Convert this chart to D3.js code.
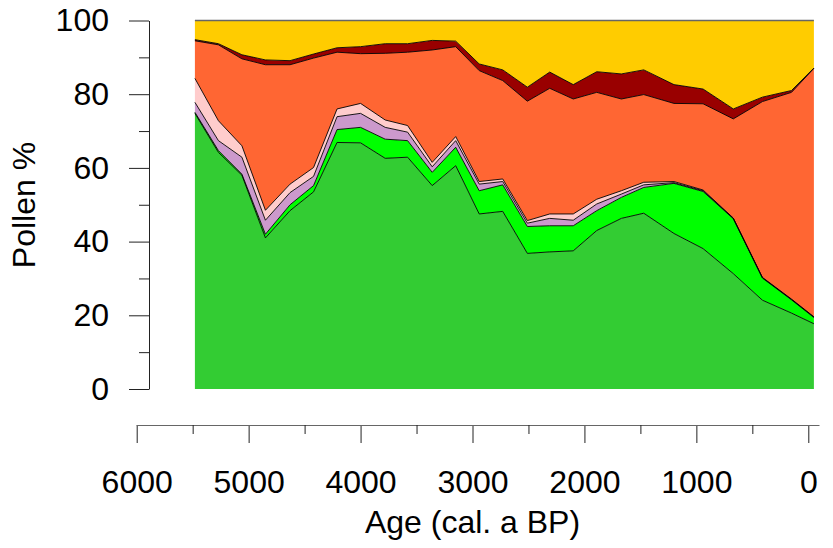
<!DOCTYPE html>
<html>
<head>
<meta charset="utf-8">
<script src="https://cdn.jsdelivr.net/npm/d3@7"></script>
<style>
  body { margin: 0; background: #fff; }
  text { font-family: "Liberation Sans", Arial, sans-serif; }
</style>
</head>
<body>
<div id="main"></div>
<script>
// sample ages (cal. a BP)
const ages = [5480, 5270, 5060, 4850, 4630, 4420, 4210, 4000, 3780, 3580, 3360, 3150, 2940,
  2730, 2510, 2310, 2100, 1890, 1670, 1470, 1200, 940, 670, 410, 150, -50];

// pollen percentages per group, bottom to top
const groupA = [74.8, 64.2, 58.0, 41.0, 48.4, 53.5, 66.9, 66.8, 62.6, 62.9, 55.2, 60.6, 47.5,
  48.2, 36.8, 37.2, 37.5, 43.0, 46.3, 47.7, 42.2, 38.1, 31.3, 24.1, 20.6, 17.7];
const groupB = [0.3, 0.5, 0.3, 1.0, 1.6, 1.7, 3.5, 4.2, 5.2, 4.5, 3.6, 5.0, 6.3,
  7.2, 7.3, 7.1, 6.8, 5.4, 5.7, 7.0, 13.6, 15.5, 14.9, 6.0, 3.6, 1.7];
const groupC = [2.7, 2.7, 4.6, 3.8, 3.3, 2.5, 3.5, 3.8, 3.2, 2.3, 1.5, 1.8, 1.8,
  0.9, 0.9, 2.0, 1.5, 1.8, 0.9, 0.7, 0.2, 0.2, 0.1, 0.1, 0.1, 0.1];
const groupD = [6.5, 5.4, 3.1, 2.7, 2.3, 2.4, 2.1, 2.7, 2.0, 1.8, 1.2, 1.1, 0.7,
  0.7, 0.7, 1.2, 1.7, 1.3, 0.9, 0.7, 0.3, 0.2, 0.1, 0.1, 0.1, 0.1];
const groupE = [10.2, 20.6, 23.6, 39.5, 32.4, 29.7, 15.4, 13.5, 18.1, 19.9, 30.5, 24.4, 30.1,
  26.7, 32.4, 34.1, 31.2, 29.0, 24.9, 23.8, 21.2, 23.4, 26.9, 47.7, 56.1, 67.4];
const groupF = [0.3, 0.3, 1.1, 1.3, 1.1, 1.1, 1.2, 1.9, 2.6, 2.3, 2.6, 1.5, 1.8,
  2.9, 3.8, 4.4, 3.9, 5.6, 6.8, 6.7, 5.1, 4.0, 2.7, 1.2, 0.5, 0.1];
const groupG = [5.2, 6.3, 9.3, 10.7, 10.9, 9.1, 7.4, 7.1, 6.3, 6.3, 5.4, 5.6, 11.8,
  13.4, 18.1, 14.0, 17.4, 13.9, 14.5, 13.4, 17.4, 18.6, 24.0, 20.8, 19.0, 12.9];

const keys = ['A', 'B', 'C', 'D', 'E', 'F', 'G'];
const colours = ['#33cc33', '#00ff00', '#cc99cc', '#ffcccc', '#ff6633', '#990000', '#ffcc00'];

const xTicks = [6000, 5000, 4000, 3000, 2000, 1000, 0];
const xMinor = [5500, 4500, 3500, 2500, 1500, 500];
const yTicks = [0, 20, 40, 60, 80, 100];
const yMinor = [10, 30, 50, 70, 90];

const width = 833;
const height = 548;

const rows = ages.map((age, i) => ({
  age,
  A: groupA[i], B: groupB[i], C: groupC[i], D: groupD[i],
  E: groupE[i], F: groupF[i], G: groupG[i],
}));

const svg = d3.select('#main')
  .append('svg')
  .attr('width', width)
  .attr('height', height);

const x = d3.scaleLinear().domain([6000, 0]).range([136.7, 808.3]);
const y = d3.scaleLinear().domain([0, 100]).range([389, 20.5]);

const series = d3.stack().keys(keys)(rows);

const area = d3.area()
  .x((d) => x(d.data.age))
  .y0((d) => y(d[0]))
  .y1((d) => y(d[1]));

const topLine = d3.line()
  .x((d) => x(d.data.age))
  .y((d) => y(d[1]));

svg.append('g')
  .selectAll('path')
  .data(series)
  .enter()
  .append('path')
  .attr('d', area)
  .style('fill', (d, i) => colours[i]);

svg.append('g')
  .selectAll('path')
  .data(series)
  .enter()
  .append('path')
  .attr('d', topLine)
  .style('fill', 'none')
  .style('stroke', (d, i) => (i === keys.length - 1 ? '#666' : '#000'))
  .style('stroke-width', (d, i) => (i === keys.length - 1 ? 1.6 : 0.9))
  .style('stroke-linejoin', 'round');

// y axis
const yAxis = svg.append('g')
  .attr('transform', 'translate(149,0)')
  .call(d3.axisLeft(y).tickValues(yTicks).tickSize(20).tickSizeOuter(0).tickPadding(20));
yAxis.select('.domain').attr('stroke', '#222');
yAxis.selectAll('line').attr('stroke', '#222');
yAxis.selectAll('text').style('font-size', '32px').attr('fill', '#000');
yAxis.attr('font-family', null);

svg.append('g')
  .selectAll('line')
  .data(yMinor)
  .enter()
  .append('line')
  .attr('x1', 139)
  .attr('x2', 149)
  .attr('y1', (d) => y(d) + 0.5)
  .attr('y2', (d) => y(d) + 0.5)
  .style('stroke', '#222');

// x axis
const xAxis = svg.append('g')
  .attr('transform', 'translate(0,425)')
  .call(d3.axisBottom(x).tickValues(xTicks).tickSize(18).tickSizeOuter(0)
    .tickPadding(27).tickFormat(d3.format('d')));
xAxis.select('.domain').remove();
xAxis.selectAll('line').attr('stroke', '#222');
xAxis.selectAll('text').style('font-size', '32px').attr('fill', '#000');
xAxis.attr('font-family', null);

svg.append('line')
  .attr('x1', x(6000))
  .attr('x2', x(-100))
  .attr('y1', 425.5)
  .attr('y2', 425.5)
  .style('stroke', '#666')
  .style('stroke-width', 1.2);

svg.append('g')
  .selectAll('line')
  .data(xMinor)
  .enter()
  .append('line')
  .attr('x1', (d) => x(d) + 0.5)
  .attr('x2', (d) => x(d) + 0.5)
  .attr('y1', 425)
  .attr('y2', 434)
  .style('stroke', '#222');

// titles
svg.append('text')
  .attr('x', (x(6000) + x(0)) / 2)
  .attr('y', 533)
  .attr('text-anchor', 'middle')
  .style('font-size', '32px')
  .text('Age (cal. a BP)');

svg.append('text')
  .attr('transform', 'translate(35,205) rotate(-90)')
  .attr('text-anchor', 'middle')
  .style('font-size', '32px')
  .text('Pollen %');
</script>
</body>
</html>
